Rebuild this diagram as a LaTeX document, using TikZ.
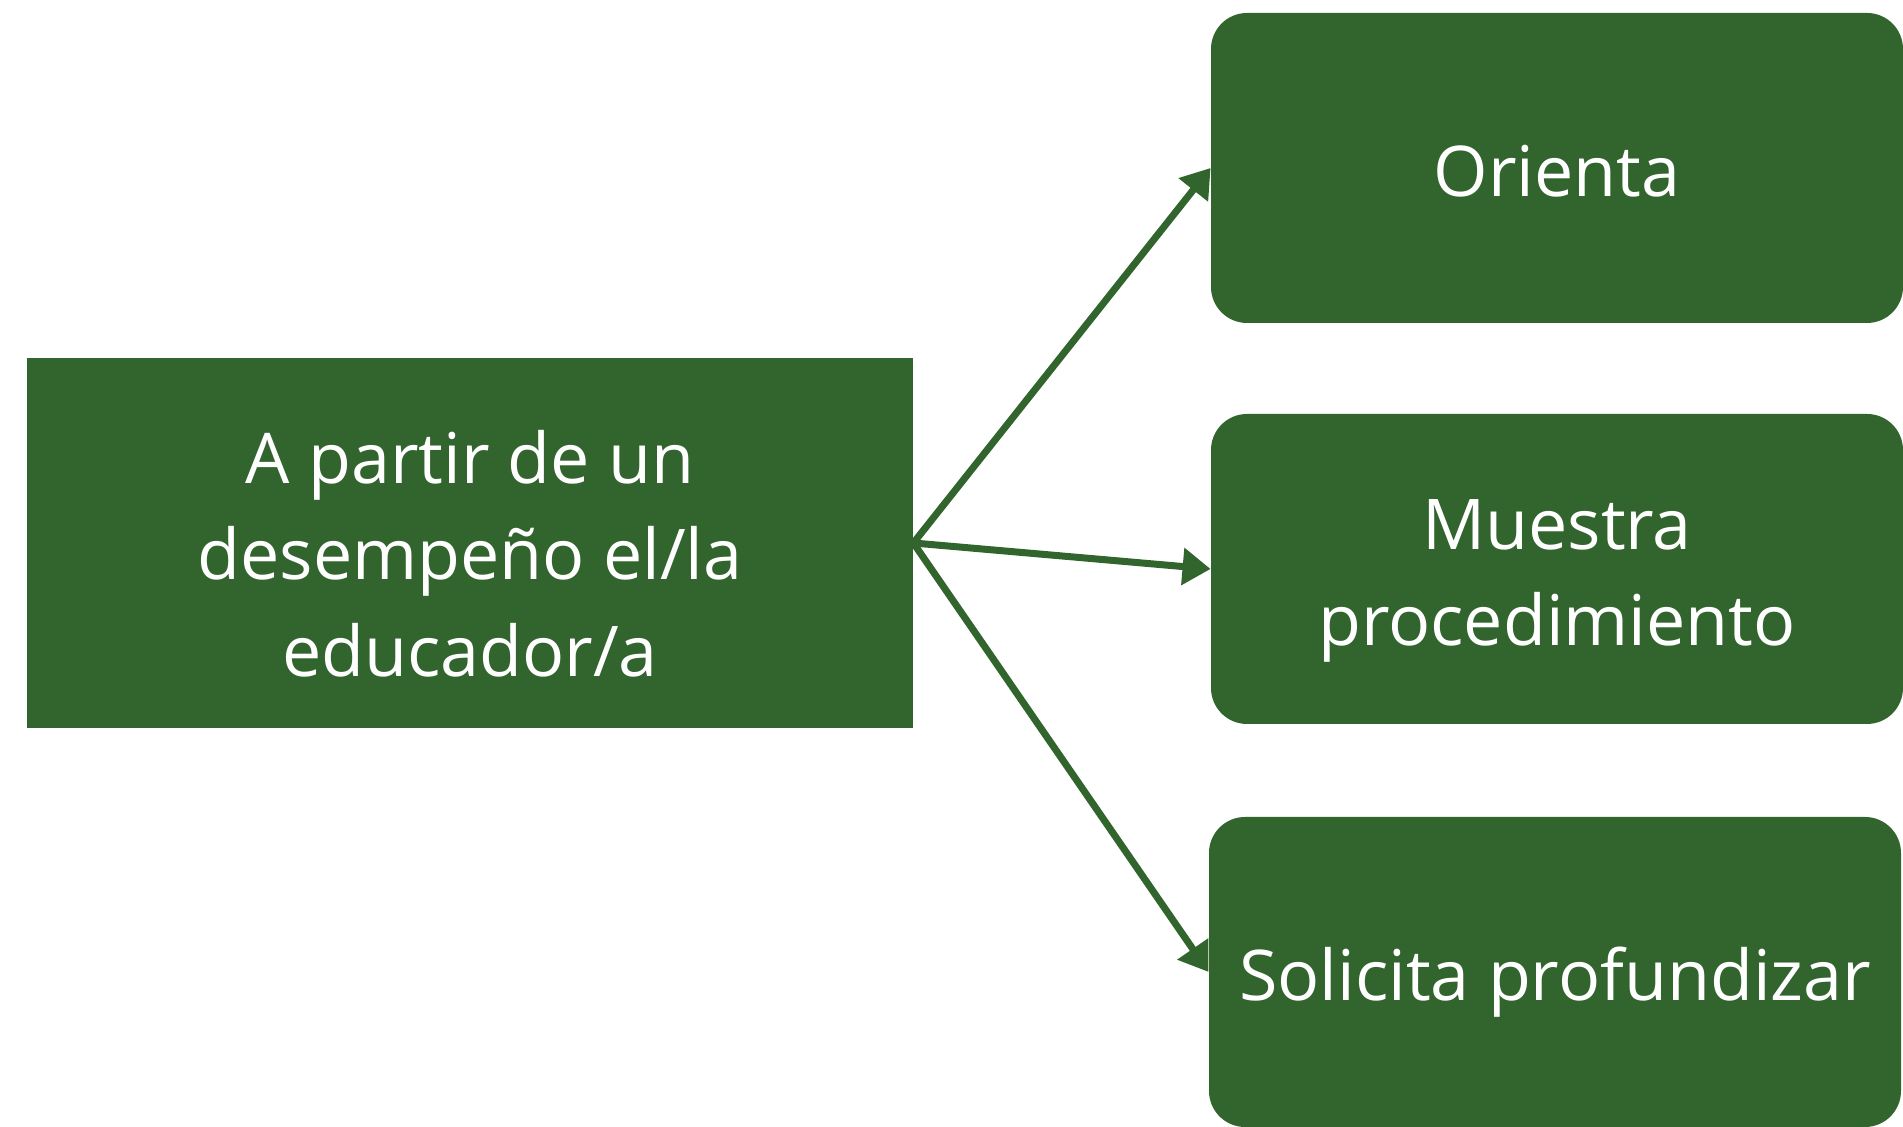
\documentclass[tikz,border=0pt]{standalone}
\usepackage{fontspec}
\setmainfont{Open Sans}
\usetikzlibrary{arrows.meta}
\definecolor{hojaverde}{RGB}{50,100,45}
% strut for each line of text in the boxes
\newcommand{\renglon}{\rule[-0.23em]{0pt}{1.28em}}

\begin{document}
\begin{tikzpicture}[x=0.5pt,y=0.5pt,
        caja/.style={fill=hojaverde,text=white,font=\fontsize{35}{48.2}\selectfont,
            align=center,inner sep=0pt},
        opcion/.style={caja,rounded corners=18pt,minimum width=346pt,minimum height=155pt},
        flecha/.style={draw=hojaverde,line width=3.5pt,
            -{Triangle[length=14pt,width=18pt]}}]
\useasboundingbox (0,0) rectangle (1903,1127);

\node[caja,minimum width=443pt,minimum height=185pt] (inicio) at (470,584)
    {\rule{0pt}{1.28em}A partir de un\\\renglon desempeño el/la\\\renglon educador/a};

\node[opcion] (orienta) at (1557,959) {\renglon Orienta};
\node[opcion] (muestra) at (1557,558) {\renglon Muestra\\\renglon procedimiento};
\node[opcion] (solicita) at (1555,155) {\renglon Solicita profundizar};

\draw[flecha] (inicio.east) -- (orienta.west);
\draw[flecha] (inicio.east) -- (muestra.west);
\draw[flecha] (inicio.east) -- (solicita.west);
\end{tikzpicture}
\end{document}
